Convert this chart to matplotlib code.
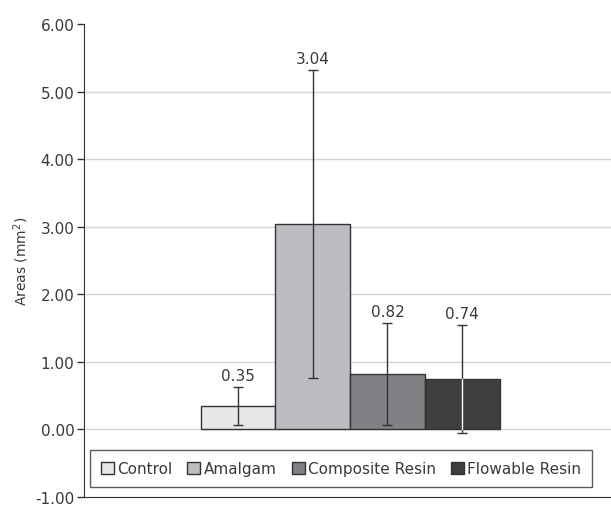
import matplotlib
matplotlib.use('Agg')
import matplotlib.pyplot as plt

# values
groups = ['Control', 'Amalgam', 'Composite Resin', 'Flowable Resin']
means = [0.35, 3.04, 0.82, 0.74]
sds = [0.28, 2.28, 0.76, 0.80]
colors = ['#e6e7e8', '#bcbdc0', '#808184', '#3f3f3f']
yticks = [-1, 0, 1, 2, 3, 4, 5, 6]

plt.rcParams['font.family'] = ['DejaVu Sans']
text_color = '#3a3a3a'

fig = plt.figure(figsize=(6.11, 5.06), dpi=100)
ax = fig.add_axes([0.1375, 0.0158, 0.8707, 0.9348])

width = 0.1405
center = 0.5
for i, (name, m, sd, c) in enumerate(zip(groups, means, sds, colors)):
    x = center + (i - 1.5) * width
    ax.bar(x, m, width=width, color=c, edgecolor='#333333', linewidth=1.0,
           label=name, zorder=3)
    ax.errorbar(x, m, yerr=sd, fmt='none', ecolor='#333333', elinewidth=1.0,
                capsize=3.5, capthick=1.0, zorder=4)
    if c == '#3f3f3f':
        # error line is drawn light where it crosses the dark bar
        ax.plot([x, x], [max(m - sd, 0), m], color='white', linewidth=1.0, zorder=5)
    ax.annotate(f'{m:.2f}', (x, m + sd), xytext=(0, 3), textcoords='offset points',
                ha='center', va='bottom', fontsize=11, color=text_color, zorder=6)

ax.set_xlim(0, 1)
ax.set_ylim(-1, 6)
ax.set_yticks(yticks)
ax.set_yticklabels([f'{v:.2f}' for v in yticks], fontsize=11, color=text_color)
ax.set_xticks([])
ax.set_ylabel('Areas (mm$^2$)', fontsize=10, color=text_color, labelpad=3)
ax.tick_params(axis='y', direction='out', length=5, width=1, color='#333333', pad=2)

for v in yticks[1:-1]:
    ax.axhline(v, color='#d4d4d4', linewidth=1.0, zorder=1)

ax.spines['top'].set_visible(False)
ax.spines['right'].set_visible(False)
ax.spines['left'].set_color('#333333')
ax.spines['bottom'].set_color('#333333')

leg = ax.legend(loc='lower center', bbox_to_anchor=(0.483, 0.022),
                ncol=4, frameon=True, fancybox=False,
                fontsize=11, handlelength=0.85, handleheight=0.85,
                handletextpad=0.2, columnspacing=1.0, borderaxespad=0,
                borderpad=0.7)
leg.get_frame().set_edgecolor('#333333')
leg.get_frame().set_linewidth(1.0)
for t in leg.get_texts():
    t.set_color(text_color)

fig.savefig('out.png', dpi=100)
